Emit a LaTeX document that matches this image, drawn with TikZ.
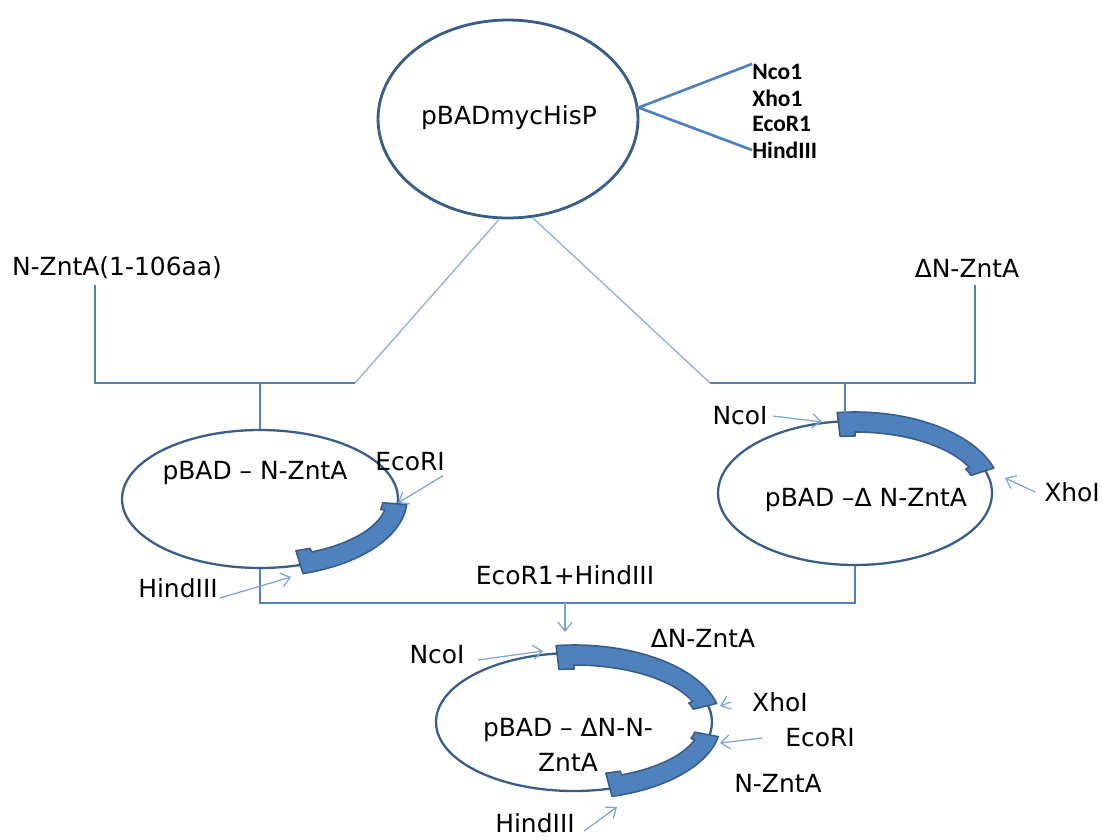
\documentclass[tikz,border=0pt]{standalone}
\usepackage{fontspec}
\setmainfont{DejaVu Sans}
\newfontfamily\sitefont{Carlito}
\usetikzlibrary{positioning, arrows.meta, shapes.geometric}
\definecolor{plasline}{HTML}{385D8A}
\definecolor{linkblue}{HTML}{4F81BD}
\definecolor{thinblue}{HTML}{95B3D7}
\definecolor{arrowblue}{HTML}{7BA3D4}
\tikzset{
  % plasmid/.style={
  %   draw, circle
  % },
  plasmid/.style={draw=plasline, ellipse, line width=1.3pt, inner sep=0pt,
    minimum width=5.52cm, minimum height=2.76cm},
  link/.style={draw=linkblue, line width=1pt},
  thin link/.style={draw=thinblue, line width=0.8pt},
  cut/.style={draw=arrowblue, line width=0.7pt, -{Straight Barb[length=5pt,width=8pt]}},
  lbl/.style={font=\fontsize{14.2}{19.9}\selectfont, inner sep=0pt, text=black},
  enzyme/.style={font=\sitefont\bfseries\fontsize{13.4}{15}\selectfont, inner sep=0pt, anchor=west},
  band/.style={fill=linkblue, draw=plasline, line width=0.9pt, line join=round}
}
% cx, cy, rx, ry, from, to
\newcommand{\plasband}[6]{%
  \pgfmathsetmacro\bandA{#5+7}\pgfmathsetmacro\bandB{#6-7}%
  \filldraw[band] plot[domain=#5:#6, samples=40] ({#1+(#3+9)*cos(\x)},{#2+(#4+9)*sin(\x)})
    -- plot[domain=#6:\bandB, samples=5] ({#1+(#3-15)*cos(\x)},{#2+(#4-15)*sin(\x)})
    -- plot[domain=\bandB:\bandA, samples=40] ({#1+(#3-11)*cos(\x)},{#2+(#4-11)*sin(\x)})
    -- plot[domain=\bandA:#5, samples=5] ({#1+(#3-15)*cos(\x)},{#2+(#4-15)*sin(\x)})
    -- cycle;
}

\begin{document}
\begin{tikzpicture}[x=0.02cm, y=-0.02cm]
  \useasboundingbox (0,0) rectangle (1102,839);

  \node[plasmid, line width=1.6pt, minimum width=5.2cm, minimum height=3.96cm] (top) at (508,119) {};
  \node[plasmid] (lp) at (260,499) {};
  \node[plasmid, minimum width=5.48cm, minimum height=2.88cm] (rp) at (855,493) {};
  \node[plasmid] (bp) at (574,722) {};

  \plasband{260}{499}{138}{69}{4}{73}
  \plasband{855}{493}{137}{72}{-97}{-18}
  \plasband{574}{722}{138}{68}{-97}{-14}
  \plasband{574}{722}{138}{68}{11}{75}

  \node[lbl] (toptext) at (509,118) {pBADmycHisP};
  \node[enzyme] (nco) at (752,72) {Nco1};
  \node[enzyme] (xho) at (752,98) {Xho1};
  \node[enzyme] (eco) at (752,124) {EcoR1};
  \node[enzyme] (hind) at (752,150) {HindIII};

  \node[lbl] (nzn) at (117,268) {N-ZntA(1-106aa)};
  \node[lbl] (dzn) at (967,268) {ΔN-ZntA};
  \node[lbl] (ltext) at (255,473) {pBAD – N-ZntA};
  \node[lbl] (rtext) at (866,500) {pBAD –Δ N-ZntA};
  \node[lbl, align=center] (btext) at (568,745) {pBAD – ΔN-N-\\ZntA};

  \node[lbl] (ecol) at (410,462) {EcoRI};
  \node[lbl] (hindl) at (178,588) {HindIII};
  \node[lbl] (ncor) at (740,416) {NcoI};
  \node[lbl] (xhor) at (1072,492) {XhoI};
  \node[lbl] (digest) at (565,575) {EcoR1+HindIII};
  \node[lbl] (ncob) at (437,655) {NcoI};
  \node[lbl] (dznb) at (703,638) {ΔN-ZntA};
  \node[lbl] (xhob) at (780,702) {XhoI};
  \node[lbl] (ecob) at (820,738) {EcoRI};
  \node[lbl] (nznb) at (778,783) {N-ZntA};
  \node[lbl] (hindb) at (535,823) {HindIII};

  \coordinate (ltop) at (95,285);
  \coordinate (lcorner) at (95,383);
  \coordinate (ljoin) at (355,383);
  \coordinate (lmid) at (260,383);
  \coordinate (rtop) at (975,285);
  \coordinate (rcorner) at (975,383);
  \coordinate (rjoin) at (710,383);
  \coordinate (rmid) at (845,383);
  \coordinate (dmid) at (565,603);
  \coordinate (dtip) at (565,632);

  \coordinate (ecolcut) at (398,503);
  \coordinate (hindlcut) at (291,577);
  \coordinate (ncorcut) at (822,422);
  \coordinate (xhorcut) at (1005,478);
  \coordinate (ncobcut) at (543,651);
  \coordinate (xhobcut) at (720,706);
  \coordinate (ecobcut) at (720,743);
  \coordinate (hindbcut) at (617,807);

  \draw[linkblue, line width=1.5pt] (nco.north west) -- (top.5) -- (hind.west);

  \draw[link] (ltop) -- (lcorner) -- (ljoin);
  \draw[thin link] (ljoin) -- (top.265);
  \draw[link] (lmid) -- (lp.north);
  \draw[link] (rtop) -- (rcorner) -- (rjoin);
  \draw[thin link] (rjoin) -- (top.284);
  \draw[link] (rmid) -- (rmid |- rp.north);

  \draw[link] (lp.south) -- (lp.south |- dmid) -- (rp.south |- dmid) -- (rp.south);
  \draw[cut] (dmid) -- (dtip);

  \draw[cut] ([shift={(-2,4)}]ecol.south east) -- (ecolcut);
  \draw[cut] ([shift={(2,0)}]hindl.south east) -- (hindlcut);
  \draw[cut] ([xshift=3]ncor.east) -- (ncorcut);
  \draw[cut] ([xshift=-5]xhor.west) -- (xhorcut);
  \draw[cut] ([shift={(13,5)}]ncob.east) -- (ncobcut);
  \draw[cut] ([xshift=-12]xhob.west) -- (xhobcut);
  \draw[cut] ([xshift=-13]ecob.west) -- (ecobcut);
  \draw[cut] ([shift={(9,8)}]hindb.east) -- (hindbcut);
\end{tikzpicture}
\end{document}
